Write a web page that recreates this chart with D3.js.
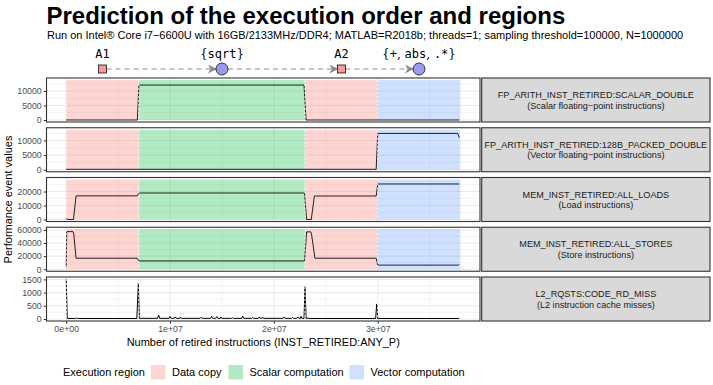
<!DOCTYPE html>
<html>
<head>
<meta charset="utf-8">
<script src="https://cdn.jsdelivr.net/npm/d3@7"></script>
<style>
  body { margin: 0; background: #fff; }
  svg { display: block; font-family: "Liberation Sans", Arial, sans-serif; }
</style>
</head>
<body>
<svg width="713" height="385"></svg>
<script>
// execution regions (x in millions of retired instructions)
var regionNames = ['Data copy', 'Scalar computation', 'Vector computation'];
var regionColors = ['#F8766D', '#00BA38', '#619CFF'];
var regionType = ['Data copy', 'Scalar computation', 'Data copy', 'Vector computation'];
var regionStart = [0, 7.0, 23.0, 30.0];
var regionEnd = [7.0, 23.0, 30.0, 37.95];

// predicted execution order
var nodeLabels = [['A1'], ['{', 'sqrt', '}'], ['A2'], ['{', '+', ', ', 'abs', ', ', '.*', '}']];
var nodeShapes = ['square', 'circle', 'square', 'circle'];

// facets
var eventNames = [
  'FP_ARITH_INST_RETIRED:SCALAR_DOUBLE',
  'FP_ARITH_INST_RETIRED:128B_PACKED_DOUBLE',
  'MEM_INST_RETIRED:ALL_LOADS',
  'MEM_INST_RETIRED:ALL_STORES',
  'L2_RQSTS:CODE_RD_MISS'
];
var eventDescriptions = [
  '(Scalar floating\u2212point instructions)',
  '(Vector floating\u2212point instructions)',
  '(Load instructions)',
  '(Store instructions)',
  '(L2 instruction cache misses)'
];
var showRegions = [true, true, true, true, false];
var yExtent = [13800, 13650, 28600, 61000, 1515];
var yTicks = [
  [0, 5000, 10000],
  [0, 5000, 10000],
  [0, 10000, 20000],
  [0, 20000, 40000, 60000],
  [0, 500, 1000, 1500]
];
var yMinor = [
  [2500, 7500, 12500],
  [2500, 7500, 12500],
  [5000, 15000, 25000],
  [10000, 30000, 50000],
  [250, 750, 1250]
];
var xTicks = [0, 10, 20, 30];
var xTickLabels = ['0e+00', '1e+07', '2e+07', '3e+07'];
var xMinor = [5, 15, 25, 35];

// series [x (millions), value]
var scalarDouble = [[0, 0], [6.85, 0], [7.0, 12050], [22.9, 12050], [23.1, 0], [37.85, 0]];
var packedDouble = [[0, 150], [29.85, 150], [30.0, 12400], [37.7, 12400], [37.85, 10900]];
var allLoads = [[0, 700], [0.15, 0], [0.7, 0], [0.95, 16900], [6.85, 16900], [7.0, 18950],
  [22.95, 18950], [23.15, 0], [23.6, 0], [23.9, 16800], [29.85, 16800], [30.0, 25400], [37.85, 25400]];
var allStores = [[0, 3000], [0.05, 57400], [0.65, 57400], [0.72, 55000], [0.95, 16800], [6.85, 16800],
  [7.0, 12700], [22.95, 12700], [23.15, 57000], [23.55, 57000], [23.62, 54000], [23.95, 16800],
  [29.85, 16800], [30.0, 6300], [37.7, 6300], [37.85, 7000]];
var l2Misses = [[0, 1515], [0.1, 20], [0.9, 20], [1.0, 40], [1.1, 20], [6.8, 20], [6.95, 1360],
  [7.05, 25], [8.8, 25], [8.9, 150], [9.0, 25], [9.9, 25], [10.0, 100], [10.1, 25], [10.4, 25],
  [10.5, 80], [10.6, 25], [10.95, 25], [11.0, 70], [11.1, 25], [12.9, 25], [13.0, 70], [13.1, 25],
  [13.9, 25], [14.0, 100], [14.1, 25], [14.4, 25], [14.5, 90], [14.6, 25], [14.85, 25], [14.9, 80],
  [15.0, 25], [15.9, 25], [16.0, 50], [16.1, 25], [16.9, 25], [17.0, 110], [17.1, 25], [17.85, 25],
  [17.95, 60], [18.05, 25], [18.5, 25], [18.6, 80], [18.7, 25], [18.85, 25], [18.9, 70], [19.0, 25],
  [20.9, 25], [21.0, 80], [21.1, 25], [21.7, 25], [21.8, 60], [21.9, 25], [22.2, 25], [22.3, 80],
  [22.4, 25], [22.55, 25], [22.6, 100], [22.7, 25], [22.9, 25], [23.0, 1220], [23.1, 25], [23.3, 35],
  [23.4, 20], [29.8, 20], [29.9, 570], [30.0, 20], [37.85, 20]];
var seriesList = [scalarDouble, packedDouble, allLoads, allStores, l2Misses];

var svg = d3.select('svg');
var panelLeft = 46.5, panelRight = 480, stripLeft = 481.7, stripRight = 710;
var panelTop = 78, panelStep = 49.75, panelH = 44;
var grey92 = '#ebebeb';

var xMax = d3.max(regionEnd);
var x = d3.scaleLinear()
  .domain([-0.05 * xMax, 1.05 * xMax])
  .range([panelLeft, panelRight]);

var fillOf = function(name) {
  return regionColors[regionNames.indexOf(name)];
};

//Title
svg.append('text').attr('x', 46.5).attr('y', 23.5)
  .style('font-size', '24px').style('font-weight', 'bold').text('Prediction of the execution order and regions');
svg.append('text').attr('x', 47).attr('y', 38.5)
  .style('font-size', '11px')
  .text('Run on Intel\u00ae Core i7\u22126600U with 16GB/2133MHz/DDR4; MATLAB=R2018b; threads=1; sampling threshold=100000, N=1000000');

//Execution order diagram
var nodeY = 69;
var nodeX = regionStart.map(function(s, i) { return x((s + regionEnd[i]) / 2); });
var defs = svg.append('defs');
defs.append('marker').attr('id', 'arr')
  .attr('viewBox', '0 0 10 10').attr('refX', 9).attr('refY', 5)
  .attr('markerWidth', 9).attr('markerHeight', 9).attr('markerUnits', 'userSpaceOnUse')
  .attr('orient', 'auto')
  .append('path').attr('d', 'M0,0 L10,5 L0,10 L3,5 Z').attr('fill', '#8c8c8c');

var halfW = function(i) { return nodeShapes[i] === 'square' ? 4 : 6; };
for (var i = 0; i < nodeX.length - 1; i++) {
  svg.append('line')
    .attr('x1', nodeX[i] + halfW(i)).attr('y1', nodeY)
    .attr('x2', nodeX[i + 1] - halfW(i + 1)).attr('y2', nodeY)
    .attr('stroke', '#8c8c8c').attr('stroke-width', 1)
    .attr('stroke-dasharray', '5,4')
    .attr('marker-end', 'url(#arr)');
}
nodeX.forEach(function(nx, i) {
  if (nodeShapes[i] === 'square') {
    svg.append('rect').attr('x', nx - 4).attr('y', nodeY - 4).attr('width', 8).attr('height', 8)
      .attr('fill', '#f79a9a').attr('stroke', '#111').attr('stroke-width', 0.8);
  } else {
    svg.append('circle').attr('cx', nx).attr('cy', nodeY).attr('r', 6)
      .attr('fill', '#9a9af0').attr('stroke', '#111').attr('stroke-width', 0.8);
  }
  var t = svg.append('text').attr('x', nx).attr('y', 58).attr('text-anchor', 'middle')
    .style('font-size', '12px');
  nodeLabels[i].forEach(function(part) {
    var serif = part === '{' || part === '}' || part === ', ';
    t.append('tspan')
      .style('font-family', serif ? '"DejaVu Serif", serif' : '"DejaVu Sans Mono", monospace')
      .text(part);
  });
});

//Facet panels
seriesList.forEach(function(data, p) {
  var top = panelTop + p * panelStep;
  var bottom = top + panelH;
  var ymax = yExtent[p];
  var y = d3.scaleLinear().domain([-0.05 * ymax, 1.05 * ymax]).range([bottom, top]);
  var g = svg.append('g');

  g.append('rect').attr('x', panelLeft).attr('y', top)
    .attr('width', panelRight - panelLeft).attr('height', panelH).attr('fill', '#fff');

  // grid
  xMinor.forEach(function(v) {
    g.append('line').attr('x1', x(v)).attr('x2', x(v)).attr('y1', top).attr('y2', bottom)
      .attr('stroke', grey92).attr('stroke-width', 0.55);
  });
  yMinor[p].filter(function(v) { return v < 1.05 * ymax; }).forEach(function(v) {
    g.append('line').attr('x1', panelLeft).attr('x2', panelRight).attr('y1', y(v)).attr('y2', y(v))
      .attr('stroke', grey92).attr('stroke-width', 0.55);
  });
  xTicks.forEach(function(v) {
    g.append('line').attr('x1', x(v)).attr('x2', x(v)).attr('y1', top).attr('y2', bottom)
      .attr('stroke', grey92).attr('stroke-width', 1.1);
  });
  yTicks[p].forEach(function(v) {
    g.append('line').attr('x1', panelLeft).attr('x2', panelRight).attr('y1', y(v)).attr('y2', y(v))
      .attr('stroke', grey92).attr('stroke-width', 1.1);
  });

  // regions
  if (showRegions[p]) {
    regionStart.forEach(function(s, r) {
      g.append('rect').attr('x', x(s)).attr('width', x(regionEnd[r]) - x(s))
        .attr('y', y(ymax)).attr('height', y(0) - y(ymax))
        .attr('fill', fillOf(regionType[r])).attr('fill-opacity', 0.3);
    });
  }

  // line
  var line = d3.line()
    .x(function(d) { return x(d[0]); })
    .y(function(d) { return y(d[1]); });
  g.append('path').datum(data).attr('d', line)
    .attr('fill', 'none').attr('stroke', '#000').attr('stroke-opacity', showRegions[p] ? 0.85 : 1)
    .attr('stroke-width', 1).attr('stroke-linejoin', 'round');

  // region boundaries
  regionStart.forEach(function(s) {
    g.append('line').attr('x1', x(s)).attr('x2', x(s)).attr('y1', y(ymax)).attr('y2', y(0))
      .attr('stroke', '#fff').attr('stroke-width', 0.9).attr('stroke-dasharray', '2,2');
  });

  // border
  g.append('rect').attr('x', panelLeft).attr('y', top)
    .attr('width', panelRight - panelLeft).attr('height', panelH)
    .attr('fill', 'none').attr('stroke', '#333').attr('stroke-width', 1.1);

  // y axis
  var ya = g.append('g').attr('transform', 'translate(' + panelLeft + ',0)')
    .call(d3.axisLeft(y).tickValues(yTicks[p]).tickSize(2.75).tickPadding(2).tickFormat(d3.format('d')));
  ya.select('.domain').remove();
  ya.selectAll('line').attr('stroke', '#333');
  ya.selectAll('text').attr('fill', '#4d4d4d').style('font-size', '8.8px')
    .style('font-family', '"Liberation Sans", Arial, sans-serif');

  // strip
  g.append('rect').attr('x', stripLeft).attr('y', top)
    .attr('width', stripRight - stripLeft).attr('height', panelH)
    .attr('fill', '#d9d9d9').attr('stroke', '#333').attr('stroke-width', 1.1);
  var cx = (stripLeft + stripRight) / 2;
  g.append('text').attr('x', cx).attr('y', top + panelH / 2 - 2).attr('text-anchor', 'middle')
    .attr('fill', '#1a1a1a').style('font-size', '9.1px').text(eventNames[p]);
  g.append('text').attr('x', cx).attr('y', top + panelH / 2 + 8.5).attr('text-anchor', 'middle')
    .attr('fill', '#1a1a1a').style('font-size', '9.1px').text(eventDescriptions[p]);

  if (p === seriesList.length - 1) {
    var xa = g.append('g').attr('transform', 'translate(0,' + bottom + ')')
      .call(d3.axisBottom(x).tickValues(xTicks).tickSize(2.75).tickPadding(2)
        .tickFormat(function(d, i) { return xTickLabels[i]; }));
    xa.select('.domain').remove();
    xa.selectAll('line').attr('stroke', '#333');
    xa.selectAll('text').attr('fill', '#4d4d4d').style('font-size', '8.8px')
      .style('font-family', '"Liberation Sans", Arial, sans-serif');
  }
});

//Axis titles
svg.append('text').attr('x', (panelLeft + panelRight) / 2).attr('y', 345.5).attr('text-anchor', 'middle')
  .style('font-size', '11px').text('Number of retired instructions (INST_RETIRED:ANY_P)');
svg.append('text').attr('transform', 'translate(12,' + (panelTop + (4 * panelStep + panelH) / 2) + ') rotate(-90)')
  .attr('text-anchor', 'middle').style('font-size', '11px').text('Performance event values');

//Legend
var legendY = 365;
svg.append('text').attr('x', 63).attr('y', legendY + 11).style('font-size', '11px').text('Execution region');
var keyX = [151, 228.5, 349.5];
regionNames.forEach(function(name, i) {
  svg.append('rect').attr('x', keyX[i]).attr('y', legendY).attr('width', 14.5).attr('height', 14.5)
    .attr('fill', regionColors[i]).attr('fill-opacity', 0.3);
  svg.append('text').attr('x', keyX[i] + 21).attr('y', legendY + 11).style('font-size', '11px').text(name);
});
</script>
</body>
</html>
